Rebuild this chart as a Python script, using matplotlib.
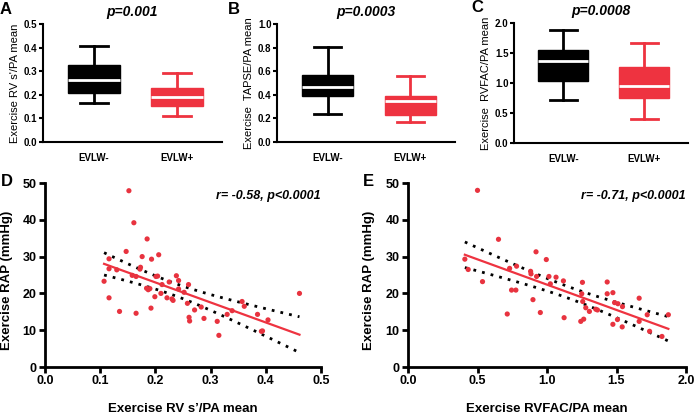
import numpy as np
import matplotlib
matplotlib.use("Agg")
import matplotlib.pyplot as plt

plt.rcParams['font.family'] = ['Liberation Sans', 'DejaVu Sans']

RED = '#EE3340'
DOT = '#E8333F'

# box plot summaries (whislo, q1, med, q3, whishi) for EVLW- / EVLW+
groups = ['EVLW-', 'EVLW+']
rvs_stats = [(0.167, 0.207, 0.262, 0.328, 0.408), (0.109, 0.153, 0.189, 0.227, 0.292)]
tapse_stats = [(0.239, 0.392, 0.462, 0.572, 0.803), (0.169, 0.225, 0.346, 0.389, 0.563)]
rvfac_stats = [(0.715, 1.039, 1.363, 1.542, 1.877), (0.402, 0.749, 0.944, 1.263, 1.665)]
box_pvals = ['p=0.001', 'p=0.0003', 'p=0.0008']
box_ylabels = ["Exercise RV s'/PA mean", 'Exercise  TAPSE/PA mean', 'Exercise  RVFAC/PA mean']
box_ylims = [0.5, 1.0, 2.0]
box_ysteps = [0.1, 0.2, 0.5]

# scatter D: RV s'/PA vs RAP
rvs_x = [0.107, 0.116, 0.116, 0.116, 0.130, 0.135, 0.147, 0.152, 0.161, 0.158, 0.165, 0.165,
         0.172, 0.173, 0.176, 0.185, 0.184, 0.187, 0.190, 0.193, 0.192, 0.199, 0.201, 0.204,
         0.206, 0.210, 0.212, 0.221, 0.225, 0.230, 0.232, 0.238, 0.242, 0.242, 0.252, 0.258,
         0.260, 0.261, 0.262, 0.271, 0.283, 0.288, 0.312, 0.315, 0.330, 0.339, 0.357, 0.361,
         0.385, 0.392, 0.394, 0.404, 0.461]
rvs_rap = [23.3, 29.4, 26.7, 18.8, 26.4, 15.1, 31.4, 47.9, 39.2, 24.9, 14.6, 24.6,
           26.6, 27.1, 30.0, 34.8, 21.4, 21.0, 21.3, 29.3, 16.0, 19.1, 24.6, 24.7,
           30.5, 20.0, 22.4, 18.8, 23.1, 18.5, 18.1, 24.8, 23.5, 21.2, 20.3, 17.3,
           22.4, 13.5, 12.5, 15.5, 16.3, 13.2, 12.4, 8.6, 14.3, 15.3, 17.8, 16.5,
           14.3, 9.7, 9.8, 12.8, 20.0]

# scatter E: RVFAC/PA vs RAP
rvfac_x = [0.409, 0.433, 0.50, 0.536, 0.651, 0.714, 0.731, 0.745, 0.776, 0.781, 0.882, 0.885,
           0.899, 0.921, 0.925, 0.952, 0.995, 1.014, 1.024, 1.065, 1.118, 1.123, 1.250, 1.243,
           1.255, 1.257, 1.264, 1.279, 1.305, 1.351, 1.363, 1.433, 1.433, 1.474, 1.486, 1.474,
           1.510, 1.507, 1.543, 1.541, 1.663, 1.663, 1.721, 1.738, 1.827, 1.873]
rvfac_rap = [29.3, 26.5, 48.0, 23.2, 34.7, 14.4, 26.8, 20.9, 20.9, 27.4, 26.0, 25.3,
             18.3, 31.3, 24.6, 14.8, 29.2, 24.6, 22.6, 24.4, 23.4, 13.4, 19.9, 12.4,
             23.0, 17.8, 13.0, 16.1, 15.1, 15.7, 15.5, 23.1, 19.9, 20.2, 17.5, 11.6,
             17.2, 12.9, 16.4, 10.9, 18.7, 12.4, 14.2, 9.7, 8.3, 14.2]
scatter_notes = ['r= -0.58, p<0.0001', 'r= -0.71, p<0.0001']
scatter_xlabels = ["Exercise RV s\u2019/PA mean", 'Exercise RVFAC/PA mean']


def style_axes(ax, lw=1.5):
    for s in ['top', 'right']:
        ax.spines[s].set_visible(False)
    for s in ['left', 'bottom']:
        ax.spines[s].set_linewidth(lw)


def draw_box(ax, stats, pval, ylabel, ymax, ystep):
    bxp_stats = []
    for (lo, q1, med, q3, hi), name in zip(stats, groups):
        bxp_stats.append({'whislo': lo, 'q1': q1, 'med': med, 'q3': q3, 'whishi': hi,
                          'label': name, 'fliers': []})
    art = ax.bxp(bxp_stats, positions=[1, 2], widths=0.62, patch_artist=True,
                 showfliers=False, capwidths=0.33)
    for i, c in enumerate(['black', RED]):
        art['boxes'][i].set(facecolor=c, edgecolor=c, linewidth=1)
        art['medians'][i].set(color='white', linewidth=2)
        for w in art['whiskers'][2 * i:2 * i + 2]:
            w.set(color=c, linewidth=2)
        for cp in art['caps'][2 * i:2 * i + 2]:
            cp.set(color=c, linewidth=2)
    ax.set_xlim(0.39, 2.54)
    ax.set_ylim(0, ymax)
    ax.set_yticks(np.arange(0, ymax + ystep / 2, ystep))
    ax.yaxis.set_major_formatter(matplotlib.ticker.FormatStrFormatter('%.1f'))
    style_axes(ax)
    ax.tick_params(axis='y', length=3, width=1.5, labelsize=7, pad=1)
    ax.tick_params(axis='x', length=0, labelsize=7, pad=8)
    for t in ax.get_xticklabels() + ax.get_yticklabels():
        t.set_fontweight('bold')
    ax.set_ylabel(ylabel, fontsize=8, labelpad=3)
    ax.set_title(pval, fontsize=10, fontweight='bold', style='italic', pad=6)


def draw_scatter(ax, x, y, xmax, xstep, note, xlabel):
    x = np.array(x)
    y = np.array(y)
    ax.scatter(x, y, s=14, color=DOT, edgecolors='none', zorder=3)
    # least squares fit with 95% confidence band
    n = len(x)
    b, a = np.polyfit(x, y, 1)
    xs = np.linspace(x.min(), x.max(), 100)
    fit = a + b * xs
    resid = y - (a + b * x)
    s = np.sqrt(np.sum(resid ** 2) / (n - 2))
    se = s * np.sqrt(1 / n + (xs - x.mean()) ** 2 / np.sum((x - x.mean()) ** 2))
    ax.plot(xs, fit, color=RED, linewidth=1.6, zorder=2)
    ax.plot(xs, fit + 2.01 * se, color='black', linewidth=2, linestyle=(0, (1, 2.2)))
    ax.plot(xs, fit - 2.01 * se, color='black', linewidth=2, linestyle=(0, (1, 2.2)))
    ax.set_xlim(0, xmax)
    ax.set_ylim(0, 50)
    ax.set_xticks(np.arange(0, xmax + xstep / 2, xstep))
    ax.set_yticks(np.arange(0, 51, 10))
    ax.xaxis.set_major_formatter(matplotlib.ticker.FormatStrFormatter('%.1f'))
    style_axes(ax, 2)
    ax.tick_params(length=4, width=2, labelsize=9, pad=2)
    for t in ax.get_xticklabels() + ax.get_yticklabels():
        t.set_fontweight('bold')
    ax.set_ylabel('Exercise RAP (mmHg)', fontsize=9.5, fontweight='bold')
    ax.yaxis.set_label_coords(-0.115 if xmax < 1 else -0.118, 0.47)
    ax.set_xlabel(xlabel, fontsize=9.5, fontweight='bold', labelpad=11)
    ax.text(1.0, 0.93, note, transform=ax.transAxes, ha='right', va='center',
            fontsize=9, fontweight='bold', style='italic')


fig = plt.figure(figsize=(6.95, 4.17), dpi=100)
W, H = 695.0, 417.0


def add_ax(l, r, t, b):
    return fig.add_axes([l / W, 1 - b / H, (r - l) / W, (b - t) / H])


box_boxes = [(43, 222, 24, 142), (277, 455, 24, 142), (514, 688, 23, 143)]
box_data = [rvs_stats, tapse_stats, rvfac_stats]
for i in range(3):
    ax = add_ax(*box_boxes[i])
    draw_box(ax, box_data[i], box_pvals[i], box_ylabels[i], box_ylims[i], box_ysteps[i])

axD = add_ax(45, 321, 183, 367)
draw_scatter(axD, rvs_x, rvs_rap, 0.5, 0.1, scatter_notes[0], scatter_xlabels[0])
axE = add_ax(408, 686, 183, 367)
draw_scatter(axE, rvfac_x, rvfac_rap, 2.0, 0.5, scatter_notes[1], scatter_xlabels[1])

for letter, (px, py) in zip('ABCDE', [(0, 9), (228, 9), (471, 8), (1, 181), (363, 181)]):
    fig.text(px / W, 1 - py / H, letter, fontsize=12, fontweight='bold', va='center', ha='left')

fig.savefig('out.png', dpi=100)
